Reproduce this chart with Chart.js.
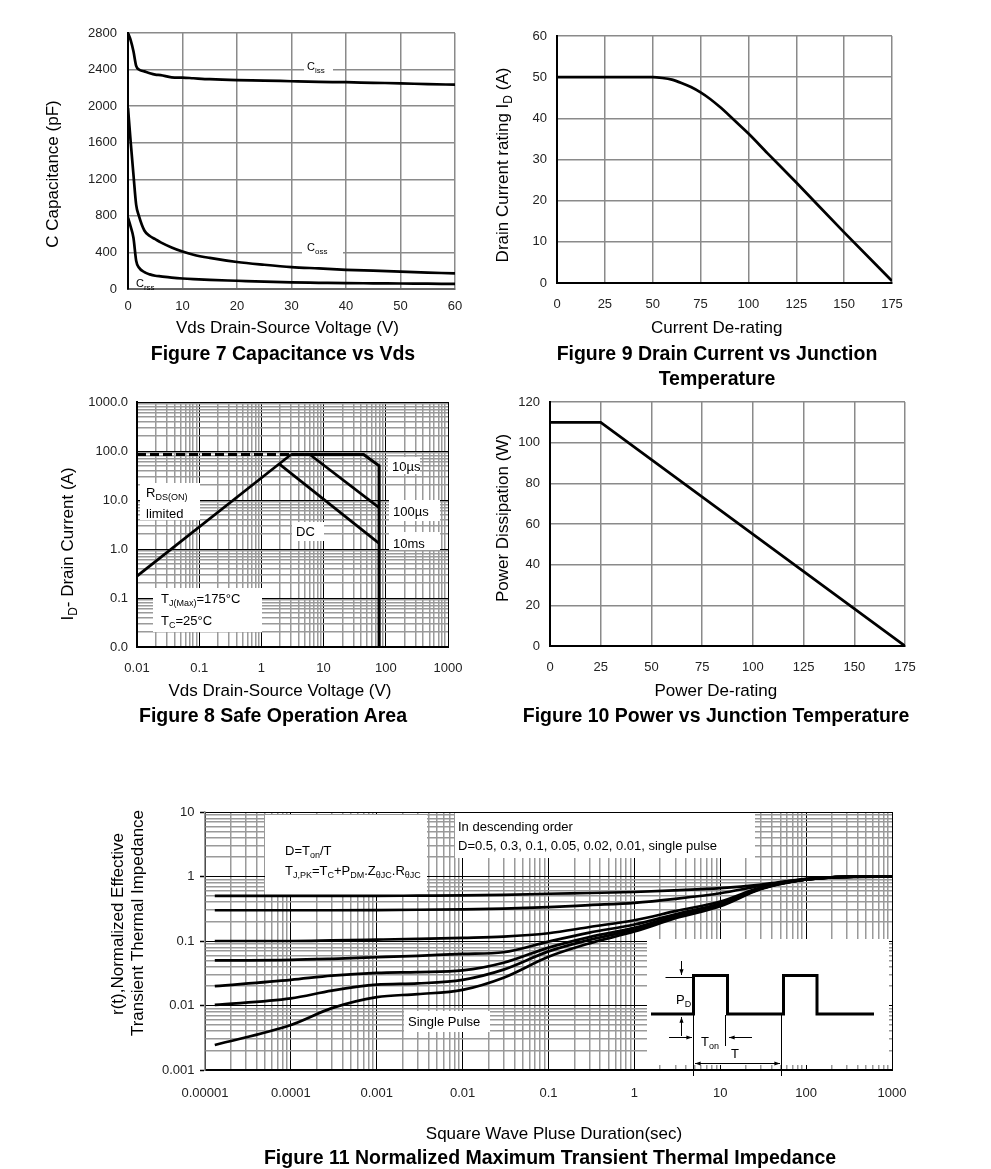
<!DOCTYPE html>
<html><head><meta charset="utf-8">
<script src="https://cdn.jsdelivr.net/npm/chart.js@4.4.1/dist/chart.umd.min.js"></script>
<style>
html,body{margin:0;padding:0;background:#fff;}
body{width:991px;height:1169px;position:relative;overflow:hidden;font-family:"Liberation Sans",Arial,Helvetica,sans-serif;}
canvas{position:absolute;left:0;top:0;}
.cap{position:absolute;font-weight:bold;font-size:19.5px;line-height:22px;white-space:nowrap;transform:translate(-50%,-50%);color:#000;}
</style></head><body>
<canvas id="c7" width="991" height="1169"></canvas>
<canvas id="c9" width="991" height="1169"></canvas>
<canvas id="c8" width="991" height="1169"></canvas>
<canvas id="c10" width="991" height="1169"></canvas>
<canvas id="c11" width="991" height="1169"></canvas>
<div class="cap" style="left:283px;top:353px">Figure 7 Capacitance vs Vds</div>
<div class="cap" style="left:717px;top:353px">Figure 9 Drain Current vs Junction</div>
<div class="cap" style="left:717px;top:378px">Temperature</div>
<div class="cap" style="left:273px;top:715px">Figure 8 Safe Operation Area</div>
<div class="cap" style="left:716px;top:715px">Figure 10 Power vs Junction Temperature</div>
<div class="cap" style="left:550px;top:1157px">Figure 11 Normalized Maximum Transient Thermal Impedance</div>
<script>
// ---------- DATA ----------
// Figure 7: capacitance vs Vds
const VDS = [0,0.5,1,1.5,2,3,4,5,6,8,10,12,15,20,25,30,35,40,45,50,55,60];
const CISS = [2800,2720,2600,2440,2400,2380,2360,2345,2340,2315,2312,2305,2295,2285,2280,2272,2265,2262,2255,2250,2240,2235];
const COSS = [1980,1600,1250,920,800,640,580,545,510,455,410,375,340,295,265,240,225,210,200,190,180,170];
const CRSS = [780,680,560,310,235,185,160,145,138,125,115,108,100,90,80,72,68,64,62,60,58,56];
// Figure 9: drain current vs junction temperature
const TJ_ID = [0,25,50,55,60,65,70,75,80,85,90,95,100,110,125,150,175];
const ID_RATING = [50,50,50,49.8,49.4,48.6,47.6,46.3,44.7,42.8,40.7,38.5,36.3,31.5,24.4,12.3,0.5];
// Figure 10: power vs junction temperature
const TJ_PD = [0,25,175];
const PD_RATING = [110,110,0];
// Figure 8: safe operating area
const PKG_LIMIT_V = [0.01,3];      const PKG_LIMIT_I = [85,85];
const RDS_LIMIT_V = [0.01,3];      const RDS_LIMIT_I = [0.28,85];
const SOA_10US_V = [3,44,78,78];   const SOA_10US_I = [85,85,50,0.01];
const SOA_100US_V = [6,78];        const SOA_100US_I = [85,7];
const SOA_DC_V = [1.95,78];        const SOA_DC_I = [54,1.3];
const SOA_X_LABELS = ['0.01','0.1','1','10','100','1000'];
const SOA_Y_LABELS = ['0.0','0.1','1.0','10.0','100.0','1000.0'];
// Figure 11: normalized transient thermal impedance
const TP = [1.3e-5,1e-4,3e-4,1e-3,3e-3,1e-2,3e-2,0.1,0.3,1,3,10,30,100,300,1000];
const Z_D05  = [0.5,0.5,0.5,0.5,0.505,0.51,0.52,0.54,0.555,0.575,0.61,0.66,0.75,0.92,0.99,1.0];
const Z_D03  = [0.3,0.3,0.3,0.302,0.305,0.31,0.318,0.335,0.36,0.39,0.45,0.55,0.72,0.91,0.99,1.0];
const Z_D01  = [0.1,0.1,0.102,0.105,0.108,0.112,0.117,0.132,0.165,0.21,0.29,0.41,0.68,0.9,0.99,1.0];
const Z_D005 = [0.05,0.051,0.053,0.056,0.059,0.063,0.067,0.098,0.135,0.18,0.26,0.38,0.66,0.9,0.99,1.0];
const Z_D002 = [0.02,0.025,0.029,0.032,0.033,0.035,0.046,0.079,0.115,0.16,0.245,0.365,0.65,0.9,0.99,1.0];
const Z_D001 = [0.0102,0.0129,0.017,0.021,0.022,0.025,0.036,0.069,0.104,0.15,0.235,0.355,0.65,0.9,0.99,1.0];
const Z_SP   = [0.00244,0.005,0.0091,0.0135,0.015,0.0175,0.027,0.057,0.092,0.14,0.225,0.345,0.64,0.9,0.99,1.0];
const ZTH_X_LABELS = ['0.00001','0.0001','0.001','0.01','0.1','1','10','100','1000'];
const ZTH_Y_LABELS = ['0.001','0.01','0.1','1','10'];

// ---------- HELPERS ----------
const W = 991, H = 1169, YW = 60, XH = 40;
const FONT = '"Liberation Sans", Arial, Helvetica, sans-serif';
const TICK_FONT = { family: FONT, size: 13, lineHeight: 1.2 };
const isDecade = v => Math.abs(Math.log10(v) - Math.round(Math.log10(v))) < 1e-6;
function logTicks(e0, e1) {
  const t = [];
  for (let e = e0; e < e1; e++) for (let m = 1; m < 10; m++) t.push({ value: +(m * Math.pow(10, e)).toPrecision(6) });
  t.push({ value: Math.pow(10, e1) });
  return t;
}
const pts = (xs, ys) => xs.map((x, i) => ({ x, y: ys[i] }));

function rich(ctx, parts, x, y, o) {
  o = o || {};
  const size = o.size || 13, sub = o.sub || Math.round(size * 0.7);
  const wt = o.bold ? 'bold ' : '';
  ctx.save();
  ctx.translate(x, y);
  if (o.rot) ctx.rotate(o.rot);
  ctx.fillStyle = o.color || '#000';
  ctx.textBaseline = 'alphabetic';
  ctx.textAlign = 'left';
  const fontOf = k => wt + (k ? sub : size) + 'px ' + FONT;
  let w = 0;
  parts.forEach(p => { ctx.font = fontOf(p[1]); w += ctx.measureText(p[0]).width; });
  let cx = o.align === 'center' ? -w / 2 : (o.align === 'right' ? -w : 0);
  const base = size * 0.358;
  parts.forEach(p => {
    ctx.font = fontOf(p[1]);
    ctx.fillText(p[0], cx, base + (p[1] ? size * 0.27 : 0));
    cx += ctx.measureText(p[0]).width;
  });
  ctx.restore();
}
function decoPlugin(d) {
  return {
    id: 'deco',
    beforeDatasetsDraw(chart) {
      const ctx = chart.ctx; ctx.save(); ctx.fillStyle = '#fff';
      (d.boxes || []).forEach(b => ctx.fillRect(b[0], b[1], b[2] - b[0], b[3] - b[1]));
      ctx.restore();
    },
    afterDatasetsDraw(chart) {
      const ctx = chart.ctx;
      (d.texts || []).forEach(t => rich(ctx, t.p, t.x, t.y, t));
      if (d.draw) d.draw(ctx);
    }
  };
}
function linAxis(min, max, step, pad, border) {
  return { type: 'linear', min, max,
    ticks: { stepSize: step, padding: pad, font: TICK_FONT, color: '#222', maxRotation: 0, minRotation: 0, autoSkip: false,
      callback: v => String(v) },
    grid: { color: '#8a8a8a', lineWidth: 1.5, drawTicks: false },
    border: { display: true, color: border, width: 2 } };
}
function logAxis(e0, e1, labels, pad, tick, border) {
  const maj = c => c.tick && isDecade(c.tick.value);
  return { type: 'logarithmic', min: Math.pow(10, e0), max: Math.pow(10, e1),
    afterBuildTicks: s => { s.ticks = logTicks(e0, e1); },
    ticks: { padding: pad, font: TICK_FONT, color: '#222', autoSkip: false, maxRotation: 0, minRotation: 0,
      callback: v => isDecade(v) ? labels[Math.round(Math.log10(v)) - e0] : '' },
    grid: { color: c => maj(c) ? '#000' : '#9a9a9a', lineWidth: c => maj(c) ? 1 : 1.5,
      drawTicks: !!tick, tickLength: tick || 0, tickWidth: 1.5,
      tickColor: c => maj(c) ? '#000' : 'rgba(0,0,0,0)' },
    border: border };
}
function makeChart(id, area, xOpt, yOpt, datasets, deco) {
  const [L, T, R, B] = area;
  xOpt.afterFit = s => { s.height = XH; };
  yOpt.afterFit = s => { s.width = YW; };
  return new Chart(document.getElementById(id).getContext('2d'), {
    type: 'line',
    data: { datasets },
    options: {
      responsive: false, maintainAspectRatio: false, animation: false, events: [],
      layout: { padding: { left: L - YW, top: T, right: W - R, bottom: H - B - XH } },
      plugins: { legend: { display: false }, tooltip: { enabled: false } },
      elements: { point: { radius: 0 }, line: { borderColor: '#000', borderWidth: 2.7, fill: false } },
      scales: { x: xOpt, y: yOpt }
    },
    plugins: [decoPlugin(deco)]
  });
}
const ds = (data, extra) => Object.assign({ data, borderColor: '#000', borderWidth: 2.7, pointRadius: 0, cubicInterpolationMode: 'monotone' }, extra || {});
const ROT = -Math.PI / 2;

// ---------- FIGURE 7 ----------
makeChart('c7', [128, 33, 455, 289],
  linAxis(0, 60, 10, 10, '#666'), linAxis(0, 2800, 400, 11, '#000'),
  [ds(pts(VDS, CISS)), ds(pts(VDS, COSS)), ds(pts(VDS, CRSS))],
  { boxes: [[304, 60, 333, 74], [302, 240, 343, 256]],
    texts: [
      { p: [['C', 0], ['iss', 1]], x: 307, y: 66, size: 11, sub: 8 },
      { p: [['C', 0], ['oss', 1]], x: 307, y: 247, size: 11, sub: 8 },
      { p: [['C', 0], ['rss', 1]], x: 136, y: 283, size: 11, sub: 8 },
      { p: [['C Capacitance (pF)', 0]], x: 52, y: 174, size: 17, rot: ROT, align: 'center' },
      { p: [['Vds Drain-Source Voltage (V)', 0]], x: 287.5, y: 326.7, size: 17, align: 'center' }
    ] });

// ---------- FIGURE 9 ----------
makeChart('c9', [557, 36, 892, 283],
  linAxis(0, 175, 25, 14, '#000'), linAxis(0, 60, 10, 10, '#000'),
  [ds(pts(TJ_ID, ID_RATING))],
  { texts: [
      { p: [['Drain Current rating I', 0], ['D', 1], [' (A)', 0]], x: 501.7, y: 165, size: 17, sub: 12, rot: ROT, align: 'center' },
      { p: [['Current De-rating', 0]], x: 716.7, y: 326.7, size: 17, align: 'center' }
    ] });

// ---------- FIGURE 10 ----------
makeChart('c10', [550, 402, 905, 646],
  linAxis(0, 175, 25, 14, '#000'), linAxis(0, 120, 20, 10, '#000'),
  [ds(pts(TJ_PD, PD_RATING), { cubicInterpolationMode: 'default', tension: 0 })],
  { texts: [
      { p: [['Power Dissipation (W)', 0]], x: 501.7, y: 518, size: 17, rot: ROT, align: 'center' },
      { p: [['Power De-rating', 0]], x: 715.8, y: 690, size: 17, align: 'center' }
    ] });

// ---------- FIGURE 8 ----------
const straight = { cubicInterpolationMode: 'default', tension: 0 };
makeChart('c8', [137, 402, 448, 647],
  logAxis(-2, 3, SOA_X_LABELS, 13.5, 0, { display: true, color: '#000', width: 2 }),
  logAxis(-2, 3, SOA_Y_LABELS, 9, 0, { display: true, color: '#000', width: 2 }),
  [ds(pts(PKG_LIMIT_V, PKG_LIMIT_I), Object.assign({ borderDash: [9, 4], borderWidth: 3 }, straight)),
   ds(pts(RDS_LIMIT_V, RDS_LIMIT_I), straight),
   ds(pts(SOA_10US_V, SOA_10US_I), Object.assign({ borderWidth: 3 }, straight)),
   ds(pts(SOA_100US_V, SOA_100US_I), straight),
   ds(pts(SOA_DC_V, SOA_DC_I), straight)],
  { boxes: [[140, 483, 200, 520], [292, 522, 324, 541], [388, 457, 420, 474], [389, 500, 440, 521], [389, 532, 440, 550], [153, 588, 262, 632]],
    texts: [
      { p: [['R', 0], ['DS(ON)', 1]], x: 146, y: 492, size: 13, sub: 9 },
      { p: [['limited', 0]], x: 146, y: 513, size: 13 },
      { p: [['DC', 0]], x: 296, y: 531, size: 13 },
      { p: [['10\u00b5s', 0]], x: 392, y: 466, size: 13 },
      { p: [['100\u00b5s', 0]], x: 393, y: 511, size: 13 },
      { p: [['10ms', 0]], x: 393, y: 543, size: 13 },
      { p: [['T', 0], ['J(Max)', 1], ['=175\u00b0C', 0]], x: 161, y: 598, size: 13, sub: 9 },
      { p: [['T', 0], ['C', 1], ['=25\u00b0C', 0]], x: 161, y: 620, size: 13, sub: 9 },
      { p: [['I', 0], ['D', 1], ['- Drain Current (A)', 0]], x: 66.7, y: 544, size: 17, sub: 12, rot: ROT, align: 'center' },
      { p: [['Vds Drain-Source Voltage (V)', 0]], x: 280, y: 690, size: 17, align: 'center' }
    ] });

// ---------- FIGURE 11 ----------
function arrow(ctx, x1, y1, x2, y2) {
  const a = Math.atan2(y2 - y1, x2 - x1), h = 6;
  ctx.beginPath(); ctx.moveTo(x1, y1); ctx.lineTo(x2, y2); ctx.stroke();
  ctx.beginPath(); ctx.moveTo(x2, y2);
  ctx.lineTo(x2 - h * Math.cos(a - 0.35), y2 - h * Math.sin(a - 0.35));
  ctx.lineTo(x2 - h * Math.cos(a + 0.35), y2 - h * Math.sin(a + 0.35));
  ctx.closePath(); ctx.fill();
}
function drawInset(ctx) {
  ctx.save();
  ctx.strokeStyle = '#000'; ctx.fillStyle = '#000';
  ctx.lineWidth = 3; ctx.lineJoin = 'miter';
  ctx.beginPath();
  ctx.moveTo(651, 1014); ctx.lineTo(693.5, 1014); ctx.lineTo(693.5, 975.5); ctx.lineTo(727.5, 975.5);
  ctx.lineTo(727.5, 1014); ctx.lineTo(783.5, 1014); ctx.lineTo(783.5, 975.5); ctx.lineTo(817, 975.5);
  ctx.lineTo(817, 1014); ctx.lineTo(874, 1014);
  ctx.stroke();
  ctx.lineWidth = 1;
  ctx.beginPath();
  ctx.moveTo(665.5, 977.5); ctx.lineTo(693, 977.5);
  ctx.moveTo(693.5, 1014); ctx.lineTo(693.5, 1076);
  ctx.moveTo(725.5, 1015); ctx.lineTo(725.5, 1046);
  ctx.moveTo(781.5, 1014); ctx.lineTo(781.5, 1076);
  ctx.stroke();
  arrow(ctx, 681.5, 961, 681.5, 975);
  arrow(ctx, 681.5, 1036, 681.5, 1017);
  arrow(ctx, 669, 1037.5, 692, 1037.5);
  arrow(ctx, 752, 1037.5, 729, 1037.5);
  arrow(ctx, 737, 1063.5, 695, 1063.5);
  arrow(ctx, 737, 1063.5, 780, 1063.5);
  ctx.restore();
}
makeChart('c11', [205, 812, 892, 1070],
  logAxis(-5, 3, ZTH_X_LABELS, 15.5, 0, { display: true, color: '#000', width: 2 }),
  logAxis(-3, 1, ZTH_Y_LABELS, 5.5, 5, { display: true, color: '#9a9a9a', width: 1.5 }),
  [ds(pts(TP, Z_D05)), ds(pts(TP, Z_D03)), ds(pts(TP, Z_D01)), ds(pts(TP, Z_D005)),
   ds(pts(TP, Z_D002)), ds(pts(TP, Z_D001)), ds(pts(TP, Z_SP))],
  { boxes: [[265, 815, 427, 895], [455, 813, 755, 858], [404, 1011, 490, 1032], [647, 939, 889, 1065]],
    texts: [
      { p: [['D=T', 0], ['on', 1], ['/T', 0]], x: 285, y: 850, size: 13, sub: 9 },
      { p: [['T', 0], ['J,PK', 1], ['=T', 0], ['C', 1], ['+P', 0], ['DM', 1], ['.Z', 0], ['\u03b8JC', 1], ['.R', 0], ['\u03b8JC', 1]], x: 285, y: 870, size: 13, sub: 9 },
      { p: [['In descending order', 0]], x: 458, y: 826, size: 13 },
      { p: [['D=0.5, 0.3, 0.1, 0.05, 0.02, 0.01, single pulse', 0]], x: 458, y: 845, size: 13 },
      { p: [['Single Pulse', 0]], x: 408, y: 1021, size: 13 },
      { p: [['P', 0], ['D', 1]], x: 676, y: 999, size: 13, sub: 9 },
      { p: [['T', 0], ['on', 1]], x: 701, y: 1041, size: 13, sub: 9 },
      { p: [['T', 0]], x: 731, y: 1053, size: 13 },
      { p: [['r(t),Normalized Effective', 0]], x: 116.7, y: 924, size: 17, rot: ROT, align: 'center' },
      { p: [['Transient Thermal Impedance', 0]], x: 136.7, y: 923, size: 17, rot: ROT, align: 'center' },
      { p: [['Square Wave Pluse Duration(sec)', 0]], x: 554, y: 1133.3, size: 17, align: 'center' }
    ],
    draw: drawInset });
</script>
</body></html>
